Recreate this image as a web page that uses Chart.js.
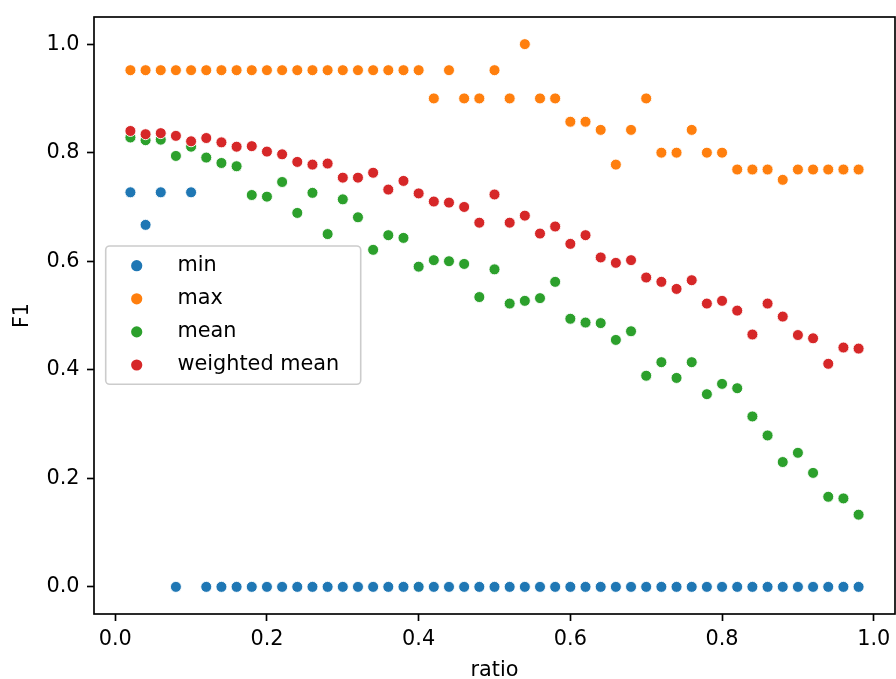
<!DOCTYPE html>
<html>
<head>
<meta charset="utf-8">
<script src="https://cdn.jsdelivr.net/npm/chart.js@4.4.0/dist/chart.umd.min.js"></script>
<style>
  body { margin: 0; background: #fff; }
  canvas { display: block; }
</style>
</head>
<body>
<canvas id="chartF1" width="896" height="679"></canvas>
<script>
const ratio = [0.02, 0.04, 0.06, 0.08, 0.10, 0.12, 0.14, 0.16, 0.18, 0.20,
               0.22, 0.24, 0.26, 0.28, 0.30, 0.32, 0.34, 0.36, 0.38, 0.40,
               0.42, 0.44, 0.46, 0.48, 0.50, 0.52, 0.54, 0.56, 0.58, 0.60,
               0.62, 0.64, 0.66, 0.68, 0.70, 0.72, 0.74, 0.76, 0.78, 0.80,
               0.82, 0.84, 0.86, 0.88, 0.90, 0.92, 0.94, 0.96, 0.98];

const minF1 = [0.727, 0.667, 0.727, 0, 0.727, 0, 0, 0, 0, 0,
               0, 0, 0, 0, 0, 0, 0, 0, 0, 0,
               0, 0, 0, 0, 0, 0, 0, 0, 0, 0,
               0, 0, 0, 0, 0, 0, 0, 0, 0, 0,
               0, 0, 0, 0, 0, 0, 0, 0, 0];

const maxF1 = [0.952, 0.952, 0.952, 0.952, 0.952, 0.952, 0.952, 0.952, 0.952, 0.952,
               0.952, 0.952, 0.952, 0.952, 0.952, 0.952, 0.952, 0.952, 0.952, 0.952,
               0.9, 0.952, 0.9, 0.9, 0.952, 0.9, 1.0, 0.9, 0.9, 0.857,
               0.857, 0.842, 0.778, 0.842, 0.9, 0.8, 0.8, 0.842, 0.8, 0.8,
               0.769, 0.769, 0.769, 0.75, 0.769, 0.769, 0.769, 0.769, 0.769];

const meanF1 = [0.828, 0.823, 0.824, 0.794, 0.811, 0.791, 0.781, 0.775, 0.722, 0.719,
                0.746, 0.689, 0.726, 0.650, 0.714, 0.681, 0.621, 0.648, 0.643, 0.590,
                0.602, 0.600, 0.595, 0.534, 0.585, 0.522, 0.527, 0.532, 0.562, 0.494,
                0.487, 0.486, 0.455, 0.471, 0.389, 0.414, 0.385, 0.414, 0.355, 0.374,
                0.366, 0.314, 0.279, 0.230, 0.247, 0.210, 0.166, 0.163, 0.133];

const weightedF1 = [0.840, 0.834, 0.836, 0.831, 0.821, 0.827, 0.819, 0.811, 0.812, 0.802,
                    0.797, 0.783, 0.778, 0.780, 0.754, 0.754, 0.763, 0.732, 0.748, 0.725,
                    0.710, 0.708, 0.700, 0.671, 0.723, 0.671, 0.684, 0.651, 0.664, 0.632,
                    0.648, 0.607, 0.597, 0.602, 0.570, 0.562, 0.549, 0.565, 0.522, 0.527,
                    0.509, 0.465, 0.522, 0.498, 0.464, 0.458, 0.411, 0.441, 0.439];

const seriesNames = ["min", "max", "mean", "weighted mean"];
const seriesColors = ["#1f77b4", "#ff7f0e", "#2ca02c", "#d62728"];
const xTicks = [0.0, 0.2, 0.4, 0.6, 0.8, 1.0];
const yTicks = [0.0, 0.2, 0.4, 0.6, 0.8, 1.0];

const FONT = "'DejaVu Sans', sans-serif";
const FONT_SIZE = 20.8;

const toPoints = (values) => values.map((v, i) => ({x: ratio[i], y: v}));

const makeDataset = (idx, values) => ({
    label: seriesNames[idx],
    data: toPoints(values),
    backgroundColor: seriesColors[idx],
    borderColor: "#ffffff",
    borderWidth: 0.9,
    pointRadius: 5.5,
    pointHoverRadius: 5.5,
    order: 4 - idx
});

// box around the plot + legend in the same spot matplotlib put it
const frameAndLegend = {
    id: "frameAndLegend",
    afterDraw: (chart) => {
        const ctx = chart.ctx;
        const a = chart.chartArea;
        ctx.save();
        ctx.strokeStyle = "#000";
        ctx.lineWidth = 1.67;
        ctx.strokeRect(a.left, a.top, a.right - a.left, a.bottom - a.top);

        const box = {x: 105.7, y: 246, w: 255, h: 138.3};
        ctx.beginPath();
        ctx.roundRect(box.x, box.y, box.w, box.h, 4);
        ctx.fillStyle = "rgba(255,255,255,0.8)";
        ctx.fill();
        ctx.strokeStyle = "#cccccc";
        ctx.lineWidth = 1.6;
        ctx.stroke();

        ctx.font = `${FONT_SIZE}px ${FONT}`;
        ctx.textBaseline = "middle";
        ctx.textAlign = "left";
        seriesNames.forEach((name, i) => {
            const y = 265.7 + i * 33.1;
            ctx.beginPath();
            ctx.arc(136.7, y, 5.6, 0, Math.PI * 2);
            ctx.fillStyle = seriesColors[i];
            ctx.fill();
            ctx.fillStyle = "#000";
            ctx.fillText(name, 177.5, y);
        });
        ctx.restore();
    }
};

const axisGrid = {
    display: true,
    drawOnChartArea: false,
    drawTicks: true,
    tickLength: 7,
    tickWidth: 1.67,
    tickColor: "#000"
};

// keep chart area fixed: no extra room for the end labels
const noPadding = (axis) => {
    axis.paddingLeft = 0;
    axis.paddingRight = 0;
    axis.paddingTop = 0;
    axis.paddingBottom = 0;
};

Chart.defaults.color = "#000";
Chart.defaults.font.family = FONT;
Chart.defaults.font.size = FONT_SIZE;

const chart = new Chart(document.getElementById("chartF1"), {
    type: "scatter",
    data: {
        datasets: [
            makeDataset(0, minF1),
            makeDataset(1, maxF1),
            makeDataset(2, meanF1),
            makeDataset(3, weightedF1)
        ]
    },
    options: {
        responsive: false,
        animation: false,
        events: [],
        layout: {autoPadding: false, padding: {left: 0, top: 17, right: 1, bottom: 0}},
        plugins: {
            legend: {display: false},
            tooltip: {enabled: false}
        },
        scales: {
            x: {
                type: "linear",
                position: "bottom",
                min: -0.028,
                max: 1.028,
                grid: axisGrid,
                border: {display: false},
                ticks: {padding: 6, maxRotation: 0, callback: (v) => v.toFixed(1)},
                afterBuildTicks: (axis) => { axis.ticks = xTicks.map(v => ({value: v})); },
                afterFit: (axis) => { axis.height = 65; noPadding(axis); },
                title: {
                    display: true,
                    text: "ratio",
                    font: {size: FONT_SIZE, lineHeight: 0.8},
                    padding: {top: 0, bottom: 0}
                }
            },
            y: {
                type: "linear",
                position: "left",
                min: -0.05,
                max: 1.05,
                grid: axisGrid,
                border: {display: false},
                ticks: {padding: 7.5, callback: (v) => v.toFixed(1)},
                afterBuildTicks: (axis) => { axis.ticks = yTicks.map(v => ({value: v})); },
                afterFit: (axis) => { axis.width = 94; noPadding(axis); },
                title: {
                    display: true,
                    text: "F1",
                    font: {size: FONT_SIZE, lineHeight: 0.8},
                    padding: {top: 14.5, bottom: 0}
                }
            }
        }
    },
    plugins: [frameAndLegend]
});
</script>
</body>
</html>
